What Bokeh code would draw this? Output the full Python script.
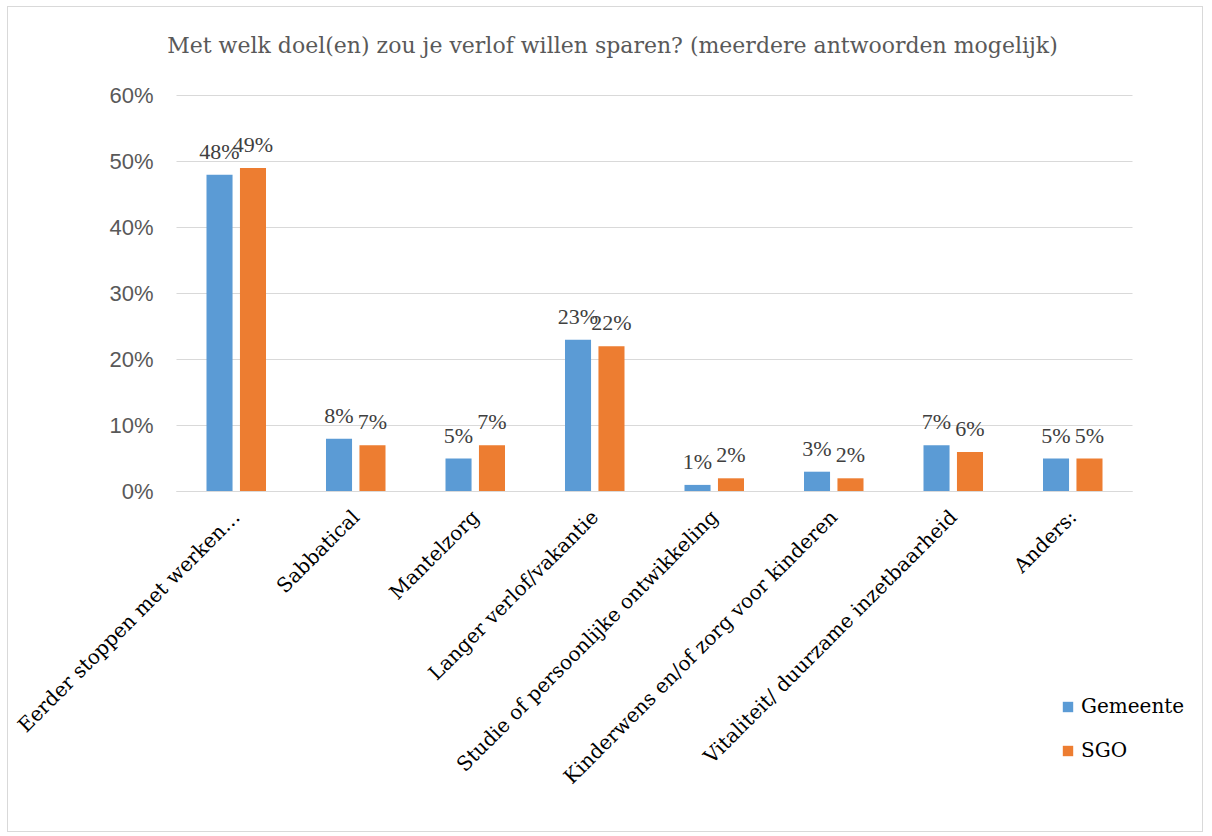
from math import pi
from bokeh.plotting import figure
from bokeh.models import (Range1d, FixedTicker, ColumnDataSource, LabelSet, Label,
                          Legend, LegendItem, LinearAxis)
from bokeh.embed import file_html
from bokeh.resources import INLINE

title = "Met welk doel(en) zou je verlof willen sparen? (meerdere antwoorden mogelijk)"
categories = ["Eerder stoppen met werken…", "Sabbatical", "Mantelzorg",
              "Langer verlof/vakantie", "Studie of persoonlijke ontwikkeling",
              "Kinderwens en/of zorg voor kinderen",
              "Vitaliteit/ duurzame inzetbaarheid", "Anders:"]
gemeente = [48, 8, 5, 23, 1, 3, 7, 5]
sgo = [49, 7, 7, 22, 2, 2, 6, 5]
series_names = ["Gemeente", "SGO"]
y_ticks = [0, 10, 20, 30, 40, 50, 60]

BLUE = "#5B9BD5"
ORANGE = "#ED7D31"
GRID = "#D9D9D9"
SERIF = "DejaVu Serif"
SANS = "Liberation Sans"

# canvas geometry (pixels)
W, H = 1196, 826
PLOT_L, PLOT_R = 168, 1124      # where category 0 starts / last ends
PLOT_B, PLOT_T = 484, 88        # 0% and 60% rows
n = len(categories)
ymax = max(y_ticks)
pxx = (PLOT_R - PLOT_L) / n
pxy = (PLOT_B - PLOT_T) / ymax
x0 = -PLOT_L / pxx
x1 = x0 + W / pxx
y1 = PLOT_B / pxy
y0 = y1 - H / pxy

centers = [i + 0.5 for i in range(n)]
off = 0.14
bw = 0.218

p = figure(width=W, height=H, output_backend="svg", toolbar_location=None,
           x_range=Range1d(x0, x1), y_range=Range1d(y0, y1),
           min_border=0, x_axis_type=None, y_axis_type=None)
p.styles = {"border": "1px solid #D9D9D9", "margin-left": "7px", "margin-top": "6px"}
p.outline_line_color = None
p.background_fill_color = "white"
p.border_fill_color = "white"
p.xgrid.grid_line_color = None
p.ygrid.grid_line_color = None

# gridlines
p.segment(x0=[0] * len(y_ticks), x1=[n] * len(y_ticks), y0=y_ticks, y1=y_ticks,
          line_color=GRID, line_width=1)

src = ColumnDataSource(dict(
    xg=[c - off for c in centers], xs=[c + off for c in centers],
    g=gemeente, s=sgo,
    gl=[f"{v}%" for v in gemeente], sl=[f"{v}%" for v in sgo]))

rg = p.vbar(x="xg", top="g", width=bw, source=src, fill_color=BLUE, line_color=None)
rs = p.vbar(x="xs", top="s", width=bw, source=src, fill_color=ORANGE, line_color=None)

for xcol, ycol, tcol in [("xg", "g", "gl"), ("xs", "s", "sl")]:
    p.add_layout(LabelSet(x=xcol, y=ycol, text=tcol, source=src, text_align="center",
                          text_baseline="alphabetic", y_offset=16,
                          text_font=SANS, text_font_size="22px", text_color="#404040"))

# axes at fixed data locations
xaxis = LinearAxis(fixed_location=0, bounds=(0, n),
                   ticker=FixedTicker(ticks=centers),
                   major_label_overrides={c: lab for c, lab in zip(centers, categories)},
                   major_label_orientation=pi / 4,
                   major_label_text_font=SERIF, major_label_text_font_size="20px",
                   major_label_text_color="#000000",
                   major_tick_line_color=None, minor_tick_line_color=None,
                   major_tick_out=0, major_tick_in=0,
                   axis_line_color=GRID, major_label_standoff=22)
p.add_layout(xaxis, "below")

yaxis = LinearAxis(fixed_location=0, bounds=(0, ymax),
                   ticker=FixedTicker(ticks=y_ticks),
                   major_label_overrides={t: f"{t}%" for t in y_ticks},
                   major_label_text_font=SANS, major_label_text_font_size="22px",
                   major_label_text_color="#595959",
                   major_tick_line_color=None, minor_tick_line_color=None,
                   major_tick_out=0, major_tick_in=0,
                   axis_line_color=None, major_label_standoff=23)
p.add_layout(yaxis, "left")

# title
p.add_layout(Label(x=(604 - PLOT_L) / pxx, y=(PLOT_B - 38) / pxy, text=title,
                   text_align="center", text_baseline="middle", text_font=SERIF,
                   text_font_size="22px", text_color="#595959"))

legend = Legend(items=[LegendItem(label=series_names[0], renderers=[rg]),
                       LegendItem(label=series_names[1], renderers=[rs])],
                location=(1053, 71), orientation="vertical")
legend.label_text_font = SERIF
legend.label_text_font_size = "20px"
legend.label_text_color = "#000000"
legend.glyph_width = 13
legend.glyph_height = 13
legend.label_height = 24
legend.spacing = 20
legend.padding = 0
legend.margin = 0
legend.label_standoff = 7
legend.border_line_color = None
legend.background_fill_color = None
p.add_layout(legend, "center")

open("out.html", "w").write(file_html(p, INLINE))
